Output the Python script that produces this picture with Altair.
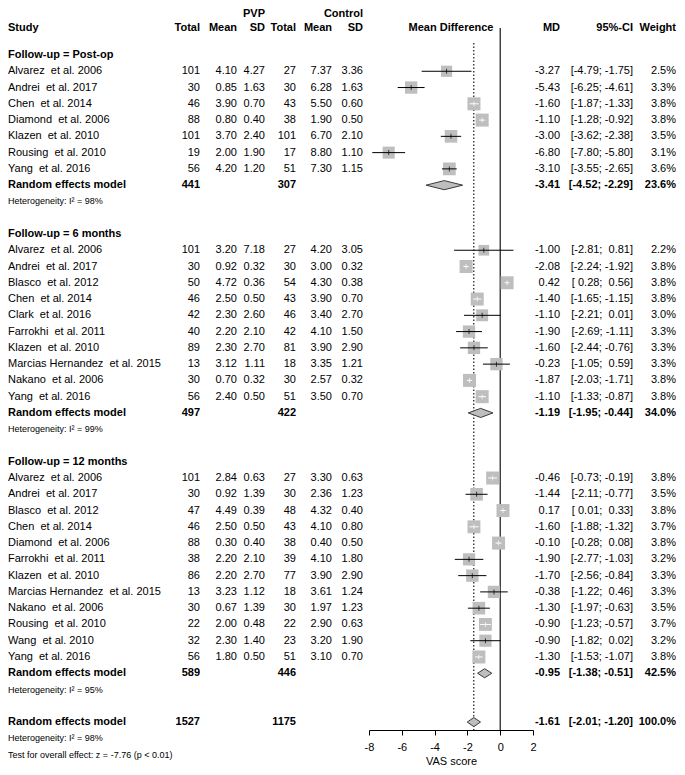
import altair as alt
import pandas as pd

FONT = "Liberation Sans"
NB = "\u00a0"

# ---------------- data ----------------
post_study = ["Alvarez et al. 2006", "Andrei et al. 2017", "Chen et al. 2014", "Diamond et al. 2006",
              "Klazen et al. 2010", "Rousing et al. 2010", "Yang et al. 2016"]
post_n1 = [101, 30, 46, 88, 101, 19, 56]
post_m1 = [4.10, 0.85, 3.90, 0.80, 3.70, 2.00, 4.20]
post_s1 = [4.27, 1.63, 0.70, 0.40, 2.40, 1.90, 1.20]
post_n2 = [27, 30, 43, 38, 101, 17, 51]
post_m2 = [7.37, 6.28, 5.50, 1.90, 6.70, 8.80, 7.30]
post_s2 = [3.36, 1.63, 0.60, 0.50, 2.10, 1.10, 1.15]
post_md = [-3.27, -5.43, -1.60, -1.10, -3.00, -6.80, -3.10]
post_lo = [-4.79, -6.25, -1.87, -1.28, -3.62, -7.80, -3.55]
post_hi = [-1.75, -4.61, -1.33, -0.92, -2.38, -5.80, -2.65]
post_w = [2.5, 3.3, 3.8, 3.8, 3.5, 3.1, 3.6]
post_rem = [441, 307, -3.41, -4.52, -2.29, 23.6, 98]

m6_study = ["Alvarez et al. 2006", "Andrei et al. 2017", "Blasco et al. 2012", "Chen et al. 2014",
            "Clark et al. 2016", "Farrokhi et al. 2011", "Klazen et al. 2010",
            "Marcias Hernandez et al. 2015", "Nakano et al. 2006", "Yang et al. 2016"]
m6_n1 = [101, 30, 50, 46, 42, 40, 89, 13, 30, 56]
m6_m1 = [3.20, 0.92, 4.72, 2.50, 2.30, 2.20, 2.30, 3.12, 0.70, 2.40]
m6_s1 = [7.18, 0.32, 0.36, 0.50, 2.60, 2.10, 2.70, 1.11, 0.32, 0.50]
m6_n2 = [27, 30, 54, 43, 46, 42, 81, 18, 30, 51]
m6_m2 = [4.20, 3.00, 4.30, 3.90, 3.40, 4.10, 3.90, 3.35, 2.57, 3.50]
m6_s2 = [3.05, 0.32, 0.38, 0.70, 2.70, 1.50, 2.90, 1.21, 0.32, 0.70]
m6_md = [-1.00, -2.08, 0.42, -1.40, -1.10, -1.90, -1.60, -0.23, -1.87, -1.10]
m6_lo = [-2.81, -2.24, 0.28, -1.65, -2.21, -2.69, -2.44, -1.05, -2.03, -1.33]
m6_hi = [0.81, -1.92, 0.56, -1.15, 0.01, -1.11, -0.76, 0.59, -1.71, -0.87]
m6_w = [2.2, 3.8, 3.8, 3.8, 3.0, 3.3, 3.3, 3.3, 3.8, 3.8]
m6_rem = [497, 422, -1.19, -1.95, -0.44, 34.0, 99]

m12_study = ["Alvarez et al. 2006", "Andrei et al. 2017", "Blasco et al. 2012", "Chen et al. 2014",
             "Diamond et al. 2006", "Farrokhi et al. 2011", "Klazen et al. 2010",
             "Marcias Hernandez et al. 2015", "Nakano et al. 2006", "Rousing et al. 2010",
             "Wang et al. 2010", "Yang et al. 2016"]
m12_n1 = [101, 30, 47, 46, 88, 38, 86, 13, 30, 22, 32, 56]
m12_m1 = [2.84, 0.92, 4.49, 2.50, 0.30, 2.20, 2.20, 3.23, 0.67, 2.00, 2.30, 1.80]
m12_s1 = [0.63, 1.39, 0.39, 0.50, 0.40, 2.10, 2.70, 1.12, 1.39, 0.48, 1.40, 0.50]
m12_n2 = [27, 30, 48, 43, 38, 39, 77, 18, 30, 22, 23, 51]
m12_m2 = [3.30, 2.36, 4.32, 4.10, 0.40, 4.10, 3.90, 3.61, 1.97, 2.90, 3.20, 3.10]
m12_s2 = [0.63, 1.23, 0.40, 0.80, 0.50, 1.80, 2.90, 1.24, 1.23, 0.63, 1.90, 0.70]
m12_md = [-0.46, -1.44, 0.17, -1.60, -0.10, -1.90, -1.70, -0.38, -1.30, -0.90, -0.90, -1.30]
m12_lo = [-0.73, -2.11, 0.01, -1.88, -0.28, -2.77, -2.56, -1.22, -1.97, -1.23, -1.82, -1.53]
m12_hi = [-0.19, -0.77, 0.33, -1.32, 0.08, -1.03, -0.84, 0.46, -0.63, -0.57, 0.02, -1.07]
m12_w = [3.8, 3.5, 3.8, 3.7, 3.8, 3.2, 3.3, 3.3, 3.5, 3.7, 3.2, 3.8]
m12_rem = [589, 446, -0.95, -1.38, -0.51, 42.5, 95]

overall_rem = [1527, 1175, -1.61, -2.01, -1.20, 100.0, 98]
overall_test = "Test for overall effect: z = -7.76 (p < 0.01)"

group_names = ["Follow-up = Post-op", "Follow-up = 6 months", "Follow-up = 12 months"]
ticks_x = [-8, -6, -4, -2, 0, 2]

# ---------------- build tables ----------------
def f2(v):
    return f"{v:.2f}"

def ci_txt(lo, hi):
    a, b = f2(lo), f2(hi)
    a = NB * (5 - len(a)) + a
    b = NB * (5 - len(b)) + b
    return f"[{a};{NB}{b}]"

def lab(s):
    return s.replace(" et al.", NB + " et al.")

groups = [
    (post_study, post_n1, post_m1, post_s1, post_n2, post_m2, post_s2, post_md, post_lo, post_hi, post_w, post_rem),
    (m6_study, m6_n1, m6_m1, m6_s1, m6_n2, m6_m2, m6_s2, m6_md, m6_lo, m6_hi, m6_w, m6_rem),
    (m12_study, m12_n1, m12_m1, m12_s1, m12_n2, m12_m2, m12_s2, m12_md, m12_lo, m12_hi, m12_w, m12_rem),
]

EMPTY = dict(n1="", m1="", s1="", n2="", m2="", s2="", mdt="", cit="", wt="")
text_rows, study_rows, dia_rows = [], [], []
r = 0
for gi, (st, n1, m1, s1, n2, m2, s2, md, lo, hi, w, rem) in enumerate(groups):
    text_rows.append(dict(row=r, label=group_names[gi], style="bold", **EMPTY))
    r += 1
    for i in range(len(st)):
        text_rows.append(dict(row=r, label=lab(st[i]), style="study",
                              n1=str(n1[i]), m1=f2(m1[i]), s1=f2(s1[i]),
                              n2=str(n2[i]), m2=f2(m2[i]), s2=f2(s2[i]),
                              mdt=f2(md[i]), cit=ci_txt(lo[i], hi[i]), wt=f"{w[i]:.1f}%"))
        study_rows.append(dict(row=r, md=md[i], lo=lo[i], hi=hi[i], w=w[i]))
        r += 1
    d = dict(EMPTY)
    d.update(n1=str(rem[0]), n2=str(rem[1]), mdt=f2(rem[2]), cit=ci_txt(rem[3], rem[4]), wt=f"{rem[5]:.1f}%")
    text_rows.append(dict(row=r, label="Random effects model", style="bold", **d))
    dia_rows.append((r, rem[2], rem[3], rem[4], gi))
    r += 1
    text_rows.append(dict(row=r, label=f"Heterogeneity: I² = {rem[6]}%", style="small", **EMPTY))
    r += 2

d = dict(EMPTY)
d.update(n1=str(overall_rem[0]), n2=str(overall_rem[1]), mdt=f2(overall_rem[2]),
         cit=ci_txt(overall_rem[3], overall_rem[4]), wt=f"{overall_rem[5]:.1f}%")
text_rows.append(dict(row=r, label="Random effects model", style="bold", **d))
dia_rows.append((r, overall_rem[2], overall_rem[3], overall_rem[4], 3))
r += 1
text_rows.append(dict(row=r, label=f"Heterogeneity: I² = {overall_rem[6]}%", style="small", **EMPTY))
r += 1
text_rows.append(dict(row=r, label=overall_test, style="small", **EMPTY))

df_text = pd.DataFrame(text_rows)
df_st = pd.DataFrame(study_rows)

H = 0.28
dpts = []
for (row, md, lo, hi, g) in dia_rows:
    dpts.append(dict(g=g, x=lo, y=row, y2=row))
    dpts.append(dict(g=g, x=md, y=row - H, y2=row + H))
    dpts.append(dict(g=g, x=hi, y=row, y2=row))
df_d = pd.DataFrame(dpts)

# ---------------- layout ----------------
W, HGT = 164, 702
PLOT_LEFT = 369  # page x of plot-area left edge
xscale = alt.Scale(domain=[-8, 2], nice=False, zero=False)
yscale = alt.Scale(domain=[-1.6595, 41.488], nice=False, zero=False, reverse=True)
Y = alt.Y("row:Q", scale=yscale, axis=None)
xaxis = alt.Axis(values=ticks_x, tickSize=5, grid=False, labelFontSize=11, titleFontSize=11,
                 titleFontWeight="normal", labelFont=FONT, titleFont=FONT, domainColor="black",
                 tickColor="black", labelColor="black", titleColor="black", labelPadding=6,
                 titlePadding=3, labelExpr="'' + datum.value", domainWidth=1, tickWidth=1,
                 labelOverlap=False, labelFlush=False)

def px(page_x):
    return page_x - PLOT_LEFT

SQ_MIN, SQ_MAX, W_MAX = 40, 169, 3.8
inside = f"(datum.hi - datum.lo) * {W / 10} < sqrt({SQ_MIN} + {SQ_MAX - SQ_MIN} * datum.w / {W_MAX})"
ci_color = alt.condition(inside, alt.value("white"), alt.value("black"))

zero_line = alt.Chart(pd.DataFrame({"a": [0]})).mark_rule(color="black", strokeWidth=1.1).encode(
    x=alt.X(datum=0, scale=xscale, axis=xaxis, title="VAS score"))
dotted = alt.Chart(pd.DataFrame({"a": [0]})).mark_rule(color="black", strokeWidth=1.1, strokeDash=[1.5, 2]).encode(
    x=alt.X(datum=overall_rem[2], scale=xscale, axis=xaxis, title="VAS score"), y=alt.value(15), y2=alt.value(HGT))

squares = alt.Chart(df_st).mark_square(color="#bebebe", opacity=1).encode(
    x=alt.X("md:Q", scale=xscale, axis=xaxis, title="VAS score"),
    y=Y,
    size=alt.Size("w:Q", scale=alt.Scale(domain=[0, W_MAX], range=[SQ_MIN, SQ_MAX]), legend=None))

ci_lines = alt.Chart(df_st).mark_rule(strokeWidth=1).encode(
    x=alt.X("lo:Q", scale=xscale, axis=xaxis, title="VAS score"), x2="hi:Q", y=Y, color=ci_color)
est_ticks = alt.Chart(df_st).mark_tick(orient="vertical", size=5, thickness=1).encode(
    x=alt.X("md:Q", scale=xscale, axis=xaxis, title="VAS score"), y=Y, color=ci_color)

diamonds = alt.Chart(df_d).mark_area(fill="#bebebe", stroke="#3a3a3a", strokeWidth=1, opacity=1).encode(
    x=alt.X("x:Q", scale=xscale, axis=xaxis, title="VAS score"),
    y=alt.Y("y:Q", scale=yscale, axis=None), y2="y2:Q", detail="g:N")

layers = [zero_line, dotted, squares, ci_lines, est_ticks, diamonds]

R_MD, R_CI, R_W = 560, 633, 676
cols = [("label", px(8), "left"), ("n1", px(200), "right"), ("m1", px(237), "right"),
        ("s1", px(265), "right"), ("n2", px(296), "right"), ("m2", px(332), "right"),
        ("s2", px(363), "right"), ("mdt", px(R_MD), "right"), ("cit", px(R_CI), "right"),
        ("wt", px(R_W), "right")]
styles = {"study": (11, "normal"), "bold": (11, "bold"), "small": (9, "normal")}
for field, xv, al in cols:
    for sname, (fs, fw) in styles.items():
        if sname == "small" and field != "label":
            continue
        layers.append(
            alt.Chart(df_text).transform_filter(alt.datum.style == sname)
            .mark_text(align=al, baseline="middle", font=FONT, fontSize=fs, fontWeight=fw, color="black")
            .encode(x=alt.value(xv), y=Y, text=f"{field}:N"))

def header(txt, page_x, align, row):
    return alt.Chart(pd.DataFrame({"a": [0]})).mark_text(
        text=txt, align=align, baseline="middle", font=FONT, fontSize=11, fontWeight="bold", color="black"
    ).encode(x=alt.value(px(page_x)), y=alt.Y(datum=row, scale=yscale, axis=None))

ROW_H1 = -2.49
ROW_H2 = -1.69
layers += [
    header("PVP", 265, "right", ROW_H1),
    header("Control", 363, "right", ROW_H1),
    header("Study", 8, "left", ROW_H2),
    header("Total", 200, "right", ROW_H2),
    header("Mean", 237, "right", ROW_H2),
    header("SD", 265, "right", ROW_H2),
    header("Total", 296, "right", ROW_H2),
    header("Mean", 332, "right", ROW_H2),
    header("SD", 363, "right", ROW_H2),
    header("Mean Difference", 451, "center", ROW_H2),
    header("MD", R_MD, "right", ROW_H2),
    header("95%-CI", R_CI, "right", ROW_H2),
    header("Weight", R_W, "right", ROW_H2),
]

chart = alt.layer(*layers).properties(
    width=W, height=HGT,
    autosize=alt.AutoSizeParams(type="none"),
    padding={"left": 361, "top": 20, "right": 144, "bottom": 37},
    background="white",
).configure_view(stroke=None)

chart.save("out.html", embed_options={"renderer": "svg", "actions": False})
